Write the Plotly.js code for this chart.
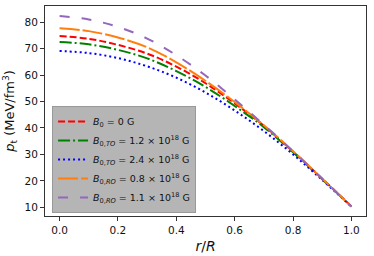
<!DOCTYPE html>
<html>
<head>
<meta charset="utf-8">
<script src="https://cdn.plot.ly/plotly-3.0.1.min.js"></script>
<style>
  html, body { margin: 0; padding: 0; background: #fff; }
  #chart { width: 374px; height: 256px; }
</style>
</head>
<body>
<div id="chart"></div>
<script>
const r = [0.0, 0.1, 0.2, 0.3, 0.4, 0.5, 0.6, 0.7, 0.8, 0.9, 1.0];
const pB0   = [74.8, 73.7, 71.4, 68.1, 63.2, 56.9, 49.3, 40.8, 31.0, 20.8, 10.3];
const pTO12 = [72.5, 71.6, 69.5, 66.3, 61.5, 55.5, 48.3, 40.3, 30.8, 20.6, 10.3];
const pTO24 = [69.1, 68.3, 66.4, 63.3, 59.0, 53.4, 46.6, 38.8, 30.0, 20.3, 10.3];
const pRO08 = [77.7, 76.6, 74.2, 70.5, 64.8, 57.8, 49.8, 41.0, 31.2, 20.8, 10.3];
const pRO11 = [82.3, 81.0, 78.2, 73.8, 67.5, 59.8, 50.8, 41.2, 31.2, 20.8, 10.3];

const names = [
  "<i>B</i><sub>0</sub> = 0 G",
  "<i>B</i><sub>0,<i>TO</i></sub> = 1.2 × 10<sup>18</sup> G",
  "<i>B</i><sub>0,<i>TO</i></sub> = 2.4 × 10<sup>18</sup> G",
  "<i>B</i><sub>0,<i>RO</i></sub> = 0.8 × 10<sup>18</sup> G",
  "<i>B</i><sub>0,<i>RO</i></sub> = 1.1 × 10<sup>18</sup> G"
];
const series = [pB0, pTO12, pTO24, pRO08, pRO11];
const colors = ["#ff0000", "#008000", "#0000ff", "#ff7f0e", "#9467bd"];
const dashes = ["7px,3px", "12px,3px,2px,3px", "2px,3px", "20px,3px", "10px,12px"];

const traces = series.map((y, i) => ({
  x: r, y: y, name: names[i], type: "scatter", mode: "lines",
  line: { color: colors[i], width: 2, dash: dashes[i], shape: "spline", smoothing: 1 }
}));

const axisCommon = {
  showgrid: false, zeroline: false, showline: true, mirror: true,
  linecolor: "#333", linewidth: 1, ticks: "outside", ticklen: 4, tickwidth: 1,
  tickcolor: "#333", tickfont: { family: "DejaVu Sans", size: 10.5, color: "#111" }
};

const layout = {
  width: 374, height: 256,
  margin: { l: 45, r: 8, t: 6, b: 40 },
  paper_bgcolor: "#fff", plot_bgcolor: "#fff",
  showlegend: true,
  legend: {
    x: 0.022, y: 0.014, xanchor: "left", yanchor: "bottom",
    bgcolor: "#b5b5b5", bordercolor: "#999", borderwidth: 1,
    font: { family: "DejaVu Sans", size: 9.5, color: "#111" },
    tracegroupgap: 0, itemwidth: 30
  },
  xaxis: Object.assign({}, axisCommon, {
    range: [-0.05, 1.05], tickvals: [0, 0.2, 0.4, 0.6, 0.8, 1.0],
    ticktext: ["0.0", "0.2", "0.4", "0.6", "0.8", "1.0"],
    title: { text: "<i>r</i>/<i>R</i>", font: { family: "DejaVu Sans", size: 14, color: "#111" }, standoff: 6 }
  }),
  yaxis: Object.assign({}, axisCommon, {
    range: [6.7, 86.1], tickvals: [10, 20, 30, 40, 50, 60, 70, 80],
    title: { text: "<i>p</i><sub>t</sub> (MeV/fm<sup>3</sup>)", font: { family: "DejaVu Sans", size: 13, color: "#111" }, standoff: 6 }
  })
};

Plotly.newPlot("chart", traces, layout, { displayModeBar: false, staticPlot: true });
</script>
</body>
</html>
